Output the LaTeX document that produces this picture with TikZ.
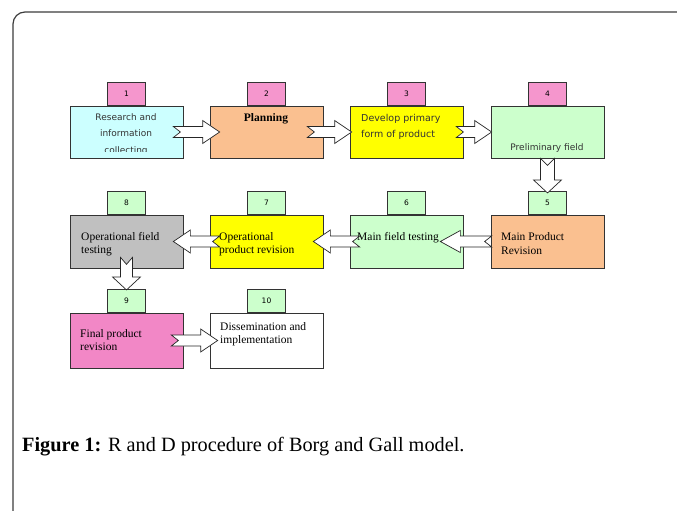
\documentclass[tikz,border=0pt]{standalone}
\usepackage{fontspec}
\setmainfont{Liberation Serif}
\newfontfamily\boxsans{DejaVu Sans}
\usetikzlibrary{calc}
\usetikzlibrary{positioning}

\definecolor{cyanbox}{RGB}{204,255,255}
\definecolor{peachbox}{RGB}{250,192,144}
\definecolor{yellowbox}{RGB}{255,255,0}
\definecolor{greenbox}{RGB}{204,255,204}
\definecolor{graybox}{RGB}{192,192,192}
\definecolor{pinkbox}{RGB}{245,150,205}
\definecolor{rosebox}{RGB}{242,135,198}
\definecolor{framegray}{RGB}{60,60,60}

\tikzset{
  stage/.style = {draw=black!80, line width=0.7pt, minimum width=113pt, inner sep=0pt},
  numtab/.style = {draw=black!80, line width=0.7pt, minimum width=38pt, minimum height=23pt,
    inner sep=0pt, font=\boxsans\fontsize{7.5}{9}\selectfont},
  sanstext/.style = {inner sep=0pt, font=\boxsans\fontsize{9}{16.5}\selectfont, text=black!80},
  seriftext/.style = {inner sep=0pt, align=left, font=\fontsize{11.5}{13.5}\selectfont},
  barrow/.style = {draw=black!85, line width=0.7pt, fill=white, line join=miter},
}

% block arrow: tail, tip, half shaft, half head, head length
\newcommand{\blockarrow}[5]{%
  \coordinate (bh) at ($(#2)!#5!(#1)$);
  \draw[barrow] ($(#1)!#3!90:(#2)$) -- ($(bh)!#3!90:(#2)$) -- ($(bh)!#4!90:(#2)$) -- (#2)
    -- ($(bh)!#4!-90:(#2)$) -- ($(bh)!#3!-90:(#2)$) -- ($(#1)!#3!-90:(#2)$)
    -- ($(#1)!7pt!(#2)$) -- cycle;
}

\begin{document}
\begin{tikzpicture}[x=1pt,y=-1pt]
  \useasboundingbox (0,0) rectangle (677,511);
  \draw[framegray, line width=1.2pt, rounded corners=12pt] (13,511) -- (13,12) -- (677,12);

  % stages 1-4
  \node[stage, fill=cyanbox,   minimum height=52pt] (b1) at (126.5,132) {};
  \node[stage, fill=peachbox,  minimum height=52pt] (b2) at (266.5,132) {};
  \node[stage, fill=yellowbox, minimum height=52pt] (b3) at (406.5,132) {};
  \node[stage, fill=greenbox,  minimum height=52pt] (b4) at (547.5,132) {};
  % stages 8-5
  \node[stage, fill=graybox,   minimum height=53pt] (b8) at (126.5,241.5) {};
  \node[stage, fill=yellowbox, minimum height=53pt] (b7) at (266.5,241.5) {};
  \node[stage, fill=greenbox,  minimum height=53pt] (b6) at (406.5,241.5) {};
  \node[stage, fill=peachbox,  minimum height=53pt] (b5) at (547.5,241.5) {};
  % stages 9-10
  \node[stage, fill=rosebox,   minimum height=55pt] (b9) at (126.5,340.5) {};
  \node[stage, fill=white,     minimum height=55pt] (b10) at (266.5,340.5) {};

  \node[numtab, fill=pinkbox,  above=0pt of b1] (t1) {1};
  \node[numtab, fill=pinkbox,  above=0pt of b2] (t2) {2};
  \node[numtab, fill=pinkbox,  above=0pt of b3] (t3) {3};
  \node[numtab, fill=pinkbox,  above=0pt of b4] (t4) {4};
  \node[numtab, fill=greenbox, above=0pt of b5] (t5) {5};
  \node[numtab, fill=greenbox, above=0pt of b6] (t6) {6};
  \node[numtab, fill=greenbox, above=0pt of b7] (t7) {7};
  \node[numtab, fill=greenbox, above=0pt of b8] (t8) {8};
  \node[numtab, fill=greenbox, above=0pt of b9] (t9) {9};
  \node[numtab, fill=greenbox, above=0pt of b10] (t10) {10};

  \begin{scope}
    \clip ([yshift=6.5pt]b1.south west) rectangle (b1.north east);
    \node[sanstext, align=center, anchor=north] (l1) at (126,113) {Research and\\information\\collecting};
  \end{scope}
  \node[seriftext, anchor=north, font=\bfseries\fontsize{11.5}{13.5}\selectfont] (l2) at (266,113) {Planning};
  \node[sanstext, align=left, anchor=north west, font=\boxsans\fontsize{9.5}{16}\selectfont] (l3) at (361,114) {Develop primary\\form of product};
  \node[sanstext, anchor=north] (l4) at (547,143) {Preliminary field};
  \node[seriftext, anchor=north west] (l5) at (501,232.5) {Main Product\\Revision};
  \node[seriftext, anchor=north west] (l6) at (357,232) {Main field testing};
  \node[seriftext, anchor=north west] (l7) at (219,232) {Operational\\product revision};
  \node[seriftext, anchor=north west] (l8) at (81,232) {Operational field\\testing};
  \node[seriftext, anchor=north west] (l9) at (80,329) {Final product\\revision};
  \node[seriftext, anchor=north west] (l10) at (220,322) {Dissemination and\\implementation};

  \coordinate (a12s) at ([xshift=-10pt]b1.east);  \coordinate (a12e) at ([xshift=10pt]b2.west);
  \coordinate (a23s) at ([xshift=-16pt]b2.east);  \coordinate (a23e) at ([xshift=2pt]b3.west);
  \coordinate (a34s) at ([xshift=-7pt]b3.east);   \coordinate (a34e) at ([xshift=1pt]b4.west);
  \coordinate (a45s) at (b4.south);               \coordinate (a45e) at ([yshift=-2pt]t5.north);
  \coordinate (a56s) at ([xshift=1pt]b5.west);    \coordinate (a56e) at ([xshift=-23pt]b6.east);
  \coordinate (a67s) at ([xshift=10pt]b6.west);   \coordinate (a67e) at ([xshift=-10pt]b7.east);
  \coordinate (a78s) at ([xshift=10pt]b7.west);   \coordinate (a78e) at ([xshift=-10pt]b8.east);
  \coordinate (a89s) at ([yshift=11pt]b8.south);  \coordinate (a89e) at ([yshift=-1pt]t9.north);
  \coordinate (a910s) at ([xshift=-12pt]b9.east); \coordinate (a910e) at ([xshift=8pt]b10.west);

  \blockarrow{a12s}{a12e}{5.5pt}{11.5pt}{17pt}
  \blockarrow{a23s}{a23e}{5.5pt}{11.5pt}{17pt}
  \blockarrow{a34s}{a34e}{5.5pt}{11.5pt}{17pt}
  \blockarrow{a45s}{a45e}{7pt}{14pt}{13pt}
  \blockarrow{a56s}{a56e}{5.5pt}{11pt}{20pt}
  \blockarrow{a67s}{a67e}{5.5pt}{11.5pt}{17pt}
  \blockarrow{a78s}{a78e}{5.5pt}{11.5pt}{17pt}
  \blockarrow{a89s}{a89e}{6pt}{14pt}{13pt}
  \blockarrow{a910s}{a910e}{5.5pt}{11.5pt}{17pt}

  \node[anchor=base west, inner sep=0pt, font=\fontsize{20.3}{24}\selectfont] (cap) at (22,451)
    {\textbf{Figure 1:} R and D procedure of Borg and Gall model.};
\end{tikzpicture}
\end{document}
